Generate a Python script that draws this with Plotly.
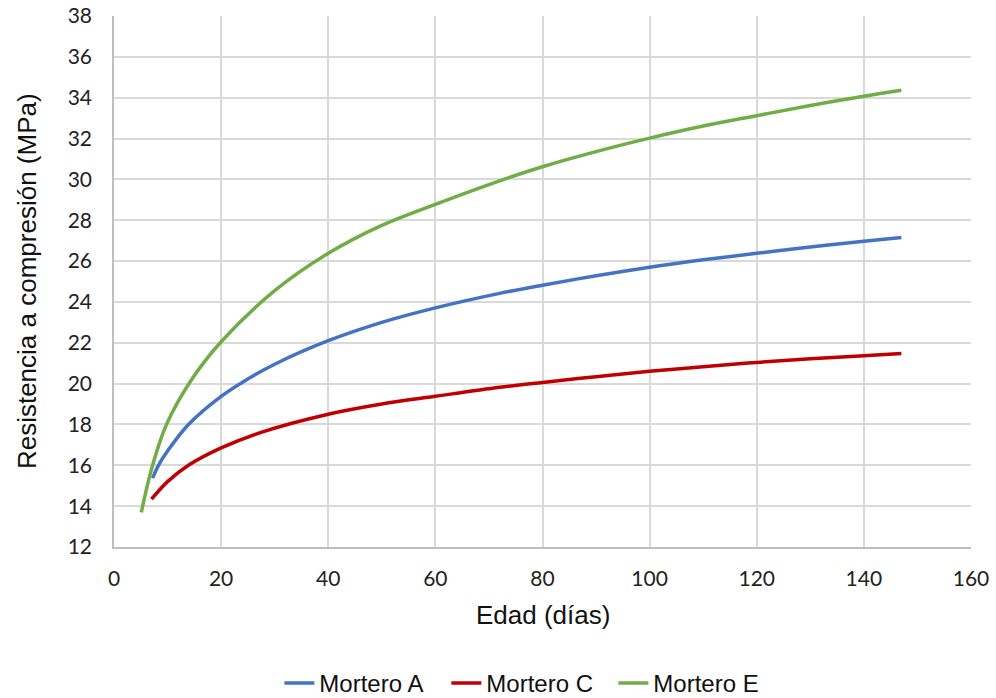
import plotly.graph_objects as go

# Edad de ensayo (días) y resistencia a compresión (MPa) por mortero
dias_A = [7.2, 8.3, 10, 13.9, 20, 24.8, 30, 40, 50, 60, 72, 80, 90, 100, 110, 120, 130, 140, 147]
res_A = [15.37, 16.0, 16.7, 18.0, 19.38, 20.2, 20.95, 22.1, 23.0, 23.71, 24.42, 24.82, 25.28, 25.7, 26.06, 26.38, 26.69, 26.97, 27.16]

dias_C = [7, 10, 13.9, 20, 27.3, 40, 50, 60, 72, 80, 90, 100, 110, 120, 130, 140, 147]
res_C = [14.34, 15.2, 16.0, 16.85, 17.6, 18.5, 19.0, 19.38, 19.82, 20.06, 20.34, 20.6, 20.83, 21.04, 21.22, 21.36, 21.47]

dias_E = [5.1, 7.2, 9.8, 14.5, 20, 30, 40, 50, 60, 72, 80, 90, 100, 110, 120, 130, 140, 147]
res_E = [13.7, 16.0, 18.0, 20.2, 22.05, 24.55, 26.38, 27.75, 28.78, 29.93, 30.62, 31.36, 32.02, 32.61, 33.12, 33.62, 34.07, 34.36]

series = [
    ("Mortero A", dias_A, res_A, "#4472C4"),
    ("Mortero C", dias_C, res_C, "#C00000"),
    ("Mortero E", dias_E, res_E, "#70AD47"),
]

x_ticks = list(range(0, 161, 20))
y_ticks = list(range(12, 39, 2))

fig = go.Figure()
for name, x, y, color in series:
    fig.add_trace(go.Scatter(
        x=x, y=y, name=name, mode="lines",
        line=dict(color=color, width=3.5, shape="spline", smoothing=1.0),
    ))

axis_common = dict(
    showgrid=True, gridcolor="#D9D9D9", gridwidth=1.5,
    zeroline=False, showline=True, linecolor="#BFBFBF", linewidth=1.5,
    ticks="", automargin=False,
    tickfont=dict(family="Lato", size=21, color="#222222"),
)

fig.update_layout(
    width=996, height=698,
    margin=dict(l=114, r=25, t=16, b=151, autoexpand=False),
    paper_bgcolor="white", plot_bgcolor="white",
    showlegend=True,
    legend=dict(
        orientation="h", xref="container", x=0.532, xanchor="center",
        yref="container", y=0.021, yanchor="middle",
        font=dict(family="Liberation Sans, Arial", size=24, color="#111111"),
        itemwidth=30, tracegroupgap=0,
        entrywidth=122, entrywidthmode="pixels",
    ),
    xaxis=dict(range=[0, 160], tickvals=x_ticks, ticklabelstandoff=12, **axis_common),
    yaxis=dict(range=[12, 38], tickvals=y_ticks, ticklabelstandoff=16, **axis_common),
    annotations=[
        dict(text="Edad (días)", xref="paper", yref="paper", x=0.5, y=-0.128,
             xanchor="center", yanchor="middle", showarrow=False,
             font=dict(family="Liberation Sans, Arial", size=26, color="#111111")),
        dict(text="Resistencia a compresión (MPa)", xref="paper", yref="paper",
             x=-0.102, y=0.5, xanchor="center", yanchor="middle", textangle=-90,
             showarrow=False,
             font=dict(family="Liberation Sans, Arial", size=26, color="#111111")),
    ],
)

fig.write_html("out.html")
